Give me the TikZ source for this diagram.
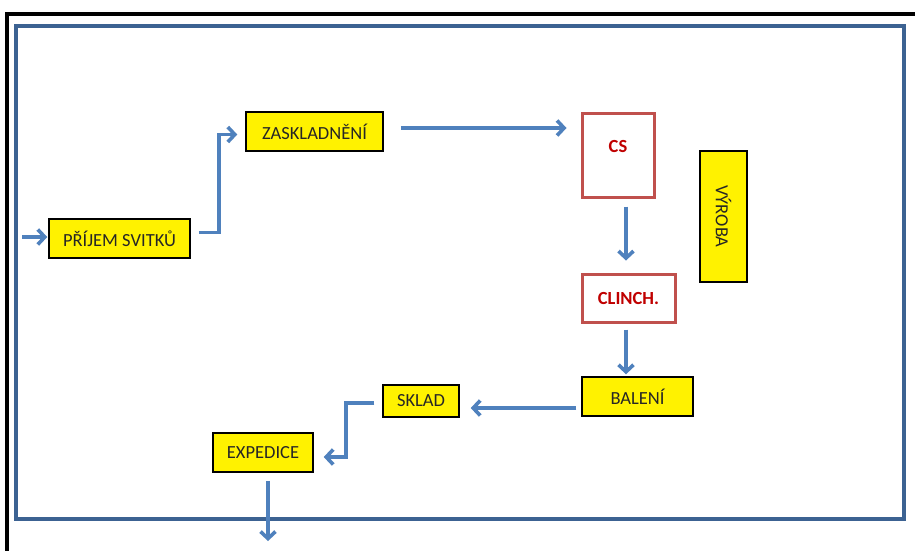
\documentclass[tikz,border=0pt]{standalone}
\usepackage{fontspec}
\setmainfont{Carlito}
\usetikzlibrary{arrows.meta,calc}
\definecolor{arrblue}{HTML}{4F81BD}
\definecolor{frameblue}{HTML}{3C6292}
\definecolor{boxred}{HTML}{C0504D}
\definecolor{txtred}{HTML}{C00000}
\tikzset{
  lbl/.style={font=\fontsize{18.5}{21}\selectfont,text=black!85},
  ybox/.style={lbl,draw=black,line width=1.5pt,fill=yellow,inner sep=0pt},
  rbox/.style={draw=boxred,line width=3pt,fill=white,inner sep=0pt,font=\fontsize{18.5}{21}\selectfont\bfseries,text=txtred},
  arr/.style={draw=arrblue,line width=3.6pt,-{Straight Barb[length=7pt,width=15pt]}}
}
\begin{document}
\begin{tikzpicture}[x=1pt,y=-1pt]
\useasboundingbox (0,0) rectangle (915,550);
\fill[white] (0,0) rectangle (915,550);
% black outer border
\draw[line width=4pt,black] (6.5,551) -- (6.5,13.5) -- (916,13.5);
% blue frame
\draw[frameblue,line width=3.6pt] (16,26) rectangle (904,519);
% nodes
\node[ybox,minimum width=141pt,minimum height=39pt] (p) at (119.5,238.5) {PŘÍJEM SVITKŮ};
\node[ybox,minimum width=137pt,minimum height=39pt] (z) at (314.5,131.5) {ZASKLADNĚNÍ};
\node[rbox,minimum width=72pt,minimum height=84pt] (cs) at (618,155) {};
\node[font=\fontsize{18.5}{21}\selectfont\bfseries,text=txtred] (cst) at (618,146) {CS};
\node[ybox,minimum width=47pt,minimum height=131pt] (v) at (723.5,216.5) {};
\node[lbl,rotate=-90] (vt) at (723.5,216.5) {VÝROBA};
\node[rbox,minimum width=93pt,minimum height=48pt] (cl) at (628.5,298) {CLINCH.};
\node[ybox,minimum width=111pt,minimum height=39pt] (b) at (637.5,396.5) {BALENÍ};
\node[ybox,minimum width=76pt,minimum height=32pt] (s) at (421,401) {SKLAD};
\node[ybox,minimum width=100pt,minimum height=39pt] (e) at (263,452.5) {EXPEDICE};
\coordinate (in) at (22,237);
\coordinate (out) at (268,541);
% connectors
\draw[arr] (in) -- ([shift={(-1,-1.5)}]p.west);
\draw[arr] ([shift={(8,-6)}]p.east) -- ++(20,0) |- ([shift={(-8,3)}]z.west);
\draw[arr] ([shift={(17,-3.5)}]z.east) -- ([shift={(-14,-27)}]cs.west);
\draw[arr] ([shift={(8,8)}]cs.south) -- ([shift={(-2.5,-12)}]cl.north);
\draw[arr] ([shift={(-2.5,6)}]cl.south) -- ([shift={(-11.5,-2)}]b.north);
\draw[arr] ([shift={(-5,11.5)}]b.west) -- ([shift={(11,7)}]s.east);
\draw[arr] ([shift={(-8,2)}]s.west) -- ++(-28,0) |- ([shift={(10,4.5)}]e.east);
\draw[arr] ([shift={(5,8)}]e.south) -- (out);
\end{tikzpicture}
\end{document}
